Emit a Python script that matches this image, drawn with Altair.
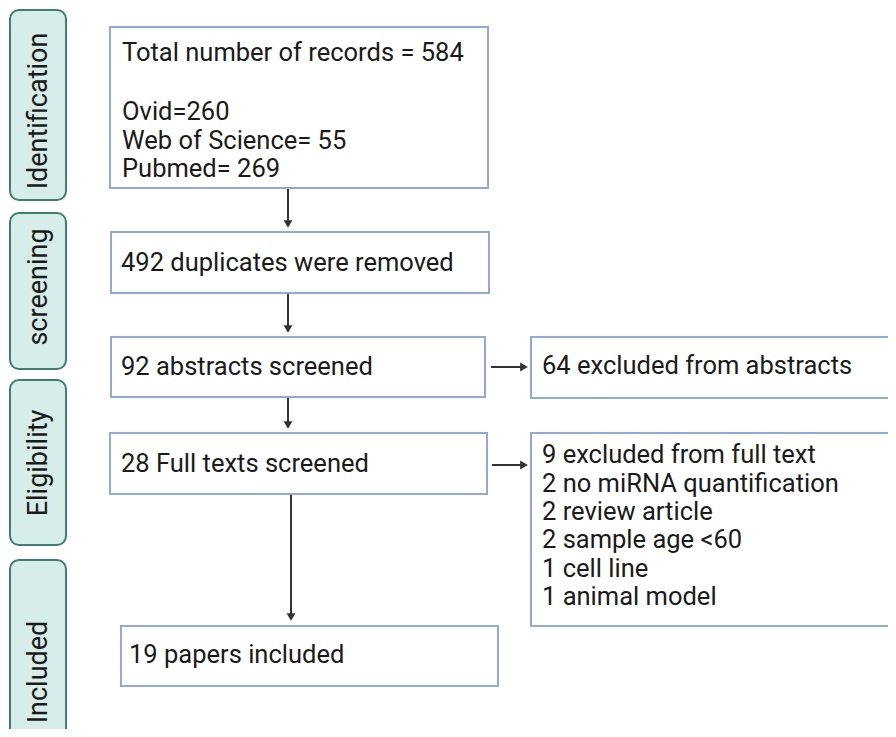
import altair as alt
import pandas as pd

# Stage labels (left column)
stage_names = ["Identification", "screening", "Eligibility", "Included"]
stage_x1 = [10, 10, 10, 10]
stage_x2 = [66, 66, 66, 66]
stage_y1 = [10, 213, 380, 560]
stage_y2 = [200, 369, 545, 760]
stage_cy = [111, 287, 463, 672]

# Flow boxes
box_x1 = [110, 111, 111, 110, 121, 531, 531]
box_x2 = [488, 489, 485, 487, 498, 910, 910]
box_y1 = [27, 232, 337, 433, 626, 337, 433]
box_y2 = [188, 293, 397, 494, 686, 398, 626]

# Text lines inside boxes (baseline positions)
text_lines = [
    "Total number of records = 584",
    "Ovid=260",
    "Web of Science= 55",
    "Pubmed= 269",
    "492 duplicates were removed",
    "92 abstracts screened",
    "28 Full texts screened",
    "19 papers included",
    "64 excluded from abstracts",
    "9 excluded from full text",
    "2 no miRNA quantification",
    "2 review article",
    "2 sample age <60",
    "1 cell line",
    "1 animal model",
]
text_x = [122, 122, 122, 122, 121, 121, 121, 129, 542, 542, 542, 542, 542, 542, 542]
text_y = [61, 120, 149, 177, 271, 375, 472, 663, 374, 463, 492, 520, 548, 577, 605]

# Vertical arrows (x, y start, y tip)
varrow_x = [288, 288, 288, 291]
varrow_y1 = [189, 294, 398, 495]
varrow_y2 = [229, 334, 430, 622]

# Horizontal arrows (y, x start, x tip)
harrow_y = [367, 465]
harrow_x1 = [491, 492]
harrow_x2 = [529, 529]

W, H = 880, 721
xs = alt.Scale(domain=[8, 888], nice=False, zero=False)
ys = alt.Scale(domain=[8, 729], nice=False, zero=False, reverse=True)
noax = None

stages = pd.DataFrame({"name": stage_names, "x1": stage_x1, "x2": stage_x2,
                       "y1": stage_y1, "y2": stage_y2, "cy": stage_cy})
stages["cx"] = (stages.x1 + stages.x2) / 2 + 1

boxes = pd.DataFrame({"x1": box_x1, "x2": box_x2, "y1": box_y1, "y2": box_y2})
texts = pd.DataFrame({"t": text_lines, "x": text_x, "y": text_y})
va = pd.DataFrame({"x": varrow_x, "y1": varrow_y1, "y2": varrow_y2})
va["ytip"] = va.y2 - 5
va["yline"] = va.y2 - 6
ha = pd.DataFrame({"y": harrow_y, "x1": harrow_x1, "x2": harrow_x2})
ha["xtip"] = ha.x2 - 5
ha["xline"] = ha.x2 - 6

stage_rect = alt.Chart(stages).mark_rect(
    cornerRadius=9, fill="#d6ede9", stroke="#3f7d6d", strokeWidth=2, clip=True
).encode(
    x=alt.X("x1:Q", scale=xs, axis=noax), x2="x2:Q",
    y=alt.Y("y1:Q", scale=ys, axis=noax), y2="y2:Q",
)

stage_text = alt.Chart(stages).mark_text(
    angle=270, font="Roboto", fontSize=27, color="#1a1a1a",
    align="center", baseline="middle"
).encode(
    x=alt.X("cx:Q", scale=xs, axis=noax),
    y=alt.Y("cy:Q", scale=ys, axis=noax),
    text="name:N",
)

box_rect = alt.Chart(boxes).mark_rect(
    fill="white", stroke="#92a9d8", strokeWidth=2, clip=True
).encode(
    x=alt.X("x1:Q", scale=xs, axis=noax), x2="x2:Q",
    y=alt.Y("y1:Q", scale=ys, axis=noax), y2="y2:Q",
)

box_text = alt.Chart(texts).mark_text(
    font="Roboto", fontSize=25.5, color="#1a1a1a", align="left", baseline="alphabetic"
).encode(
    x=alt.X("x:Q", scale=xs, axis=noax),
    y=alt.Y("y:Q", scale=ys, axis=noax),
    text="t:N",
)

v_line = alt.Chart(va).mark_rule(color="#333333", strokeWidth=2).encode(
    x=alt.X("x:Q", scale=xs, axis=noax),
    y=alt.Y("y1:Q", scale=ys, axis=noax), y2="yline:Q",
)
v_head = alt.Chart(va).mark_point(
    shape="triangle-down", filled=True, color="#333333", size=80, opacity=1
).encode(
    x=alt.X("x:Q", scale=xs, axis=noax),
    y=alt.Y("ytip:Q", scale=ys, axis=noax),
)

h_line = alt.Chart(ha).mark_rule(color="#333333", strokeWidth=2).encode(
    x=alt.X("x1:Q", scale=xs, axis=noax), x2="xline:Q",
    y=alt.Y("y:Q", scale=ys, axis=noax),
)
h_head = alt.Chart(ha).mark_point(
    shape="triangle-right", filled=True, color="#333333", size=80, opacity=1
).encode(
    x=alt.X("xtip:Q", scale=xs, axis=noax),
    y=alt.Y("y:Q", scale=ys, axis=noax),
)

chart = alt.layer(
    stage_rect, stage_text, box_rect, box_text, v_line, v_head, h_line, h_head
).properties(
    width=W, height=H, padding=0, autosize=alt.AutoSizeParams(type="none")
).configure_view(stroke=None)

chart.save("out.html", embed_options={"renderer": "svg", "actions": False})
